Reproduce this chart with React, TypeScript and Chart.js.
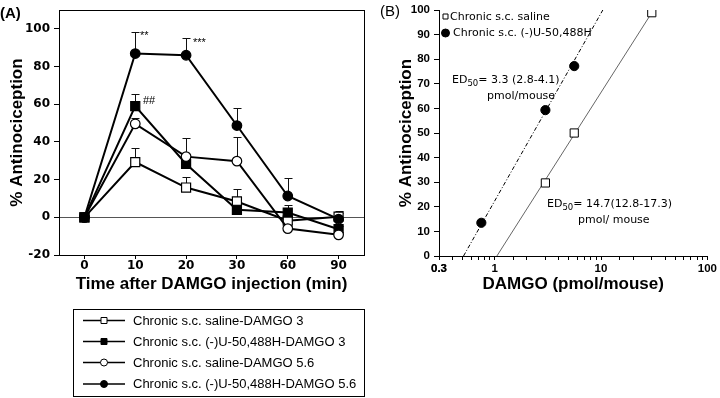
import React, { useEffect, useRef } from 'react';
import { Chart, registerables } from 'chart.js';

Chart.register(...registerables);

// ---------- Panel A data ----------
const timeLabels = ['0', '10', '20', '30', '60', '90'];
const seriesNamesA = [
  'Chronic s.c. saline-DAMGO 3',
  'Chronic s.c. (-)U-50,488H-DAMGO 3',
  'Chronic s.c. saline-DAMGO 5.6',
  'Chronic s.c. (-)U-50,488H-DAMGO 5.6',
];
const salineD3 = [0, 29.3, 15.8, 8.4, -1.8, 0.3];
const salineD3Sem = [0, 7.4, 5.6, 6.6, 2, 1.9];
const u50D3 = [0, 59, 28.3, 4, 2.5, -6.3];
const u50D3Sem = [0, 6.2, 2, 6, 4.2, 1.5];
const salineD56 = [0, 49.6, 32.2, 29.8, -6, -9.3];
const salineD56Sem = [0, 3, 9.7, 12.9, 1.5, 1.5];
const u50D56 = [0, 86.9, 86, 48.7, 11.3, -1];
const u50D56Sem = [0, 11.6, 9.2, 9.3, 9.4, 4.5];
const yTicksA = [-20, 0, 20, 40, 60, 80, 100];

// ---------- Panel B data ----------
const doseSaline = [3, 5.6, 30];
const respSaline = [29.7, 50, 98.9];
const doseU50 = [0.75, 3, 5.6];
const respU50 = [13.5, 59.3, 77.2];
const fitSalineDose = [1.05, 30];
const fitSalineResp = [0, 98.9];
const fitU50Dose = [0.51, 10.4];
const fitU50Resp = [0, 100];
const seriesNamesB = ['Chronic s.c. saline', 'Chronic s.c. (-)U-50,488H'];
const xTickLabelsB = [0.3, 1, 10, 100];

const ARIAL = '"Liberation Sans", Arial, Helvetica, sans-serif';
const DEJAVU = '"DejaVu Sans", sans-serif';

function drawMarker(ctx: CanvasRenderingContext2D, shape: string, filled: boolean, x: number, y: number, size: number) {
  ctx.save();
  ctx.lineWidth = 1;
  ctx.strokeStyle = '#000';
  ctx.fillStyle = filled ? '#000' : '#fff';
  ctx.beginPath();
  if (shape === 'rect') {
    ctx.rect(x - size / 2, y - size / 2, size, size);
  } else {
    ctx.arc(x, y, size / 2, 0, Math.PI * 2);
  }
  ctx.fill();
  ctx.stroke();
  ctx.restore();
}

const panelAPlugin = {
  id: 'panelA',
  beforeDatasetsDraw(chart: any) {
    const { ctx, chartArea: ca, scales } = chart;
    const y = scales.y;
    ctx.save();
    const y0 = Math.round(y.getPixelForValue(0)) + 0.5;
    ctx.strokeStyle = '#555';
    ctx.lineWidth = 1;
    ctx.beginPath();
    ctx.moveTo(ca.left, y0);
    ctx.lineTo(ca.right, y0);
    ctx.stroke();
    ctx.strokeStyle = '#111';
    chart.data.datasets.forEach((ds: any, di: number) => {
      const meta = chart.getDatasetMeta(di);
      meta.data.forEach((pt: any, i: number) => {
        const e = ds.errors[i];
        if (!e) return;
        const x = Math.round(pt.x) + 0.5;
        const yTop = Math.round(y.getPixelForValue(ds.data[i] + e)) + 0.5;
        ctx.beginPath();
        ctx.moveTo(x, pt.y);
        ctx.lineTo(x, yTop);
        ctx.moveTo(x - 4, yTop);
        ctx.lineTo(x + 4, yTop);
        ctx.stroke();
      });
    });
    ctx.restore();
  },
  afterDraw(chart: any) {
    const { ctx, chartArea: ca } = chart;
    ctx.save();
    // frame
    ctx.strokeStyle = '#000';
    ctx.lineWidth = 1;
    ctx.strokeRect(Math.round(ca.left) + 0.5, Math.round(ca.top) + 0.5, Math.round(ca.right - ca.left), Math.round(ca.bottom - ca.top));
    // panel label
    ctx.fillStyle = '#000';
    ctx.textBaseline = 'middle';
    ctx.textAlign = 'left';
    ctx.font = `bold 15px ${ARIAL}`;
    ctx.fillText('(A)', 0, 14);
    // significance marks
    ctx.font = `11px ${ARIAL}`;
    ctx.fillText('**', 140, 36);
    ctx.fillText('***', 193, 43);
    ctx.fillText('##', 143, 101);
    // legend box
    ctx.strokeRect(73.5, 309.5, 291, 87);
    const rows = [320.5, 341.5, 362.5, 384];
    const shapes = ['rect', 'rect', 'circle', 'circle'];
    const fills = [false, true, false, true];
    ctx.font = `13px ${ARIAL}`;
    rows.forEach((ry, i) => {
      ctx.lineWidth = 1.5;
      ctx.beginPath();
      ctx.moveTo(83, ry);
      ctx.lineTo(125, ry);
      ctx.stroke();
      drawMarker(ctx, shapes[i], fills[i], 104, ry, shapes[i] === 'rect' ? 6 : 7);
      ctx.fillStyle = '#000';
      ctx.fillText(seriesNamesA[i], 133, ry + 0.5);
    });
    ctx.restore();
  },
};

function drawED(ctx: CanvasRenderingContext2D, x: number, y: number, rest: string) {
  ctx.font = `11px ${DEJAVU}`;
  ctx.fillText('ED', x, y);
  let w = ctx.measureText('ED').width;
  ctx.font = `8.5px ${DEJAVU}`;
  ctx.fillText('50', x + w, y + 3.5);
  w += ctx.measureText('50').width;
  ctx.font = `11px ${DEJAVU}`;
  ctx.fillText(rest, x + w, y);
}

const panelBPlugin = {
  id: 'panelB',
  afterDraw(chart: any) {
    const { ctx } = chart;
    const off = 372;
    ctx.save();
    ctx.fillStyle = '#000';
    ctx.textBaseline = 'middle';
    ctx.textAlign = 'left';
    ctx.font = `15px ${ARIAL}`;
    ctx.fillText('(B)', 380 - off, 12);
    // legend
    drawMarker(ctx, 'rect', false, 445.5 - off, 16.5, 5);
    drawMarker(ctx, 'circle', true, 445.5 - off, 33, 8);
    ctx.font = `11px ${DEJAVU}`;
    ctx.fillText(seriesNamesB[0], 450 - off, 17);
    ctx.fillText(seriesNamesB[1], 453 - off, 33.5);
    // ED50 annotations
    drawED(ctx, 452 - off, 80, '= 3.3 (2.8-4.1)');
    ctx.font = `11px ${DEJAVU}`;
    ctx.fillText('pmol/mouse', 487 - off, 96);
    drawED(ctx, 547 - off, 204, '= 14.7(12.8-17.3)');
    ctx.font = `11px ${DEJAVU}`;
    ctx.fillText('pmol/ mouse', 578 - off, 220);
    ctx.restore();
  },
};

function PanelA() {
  const ref = useRef<HTMLCanvasElement | null>(null);
  useEffect(() => {
    if (!ref.current) return;
    const tickFont = { family: DEJAVU, size: 12, weight: 'bold' as const, lineHeight: 1 };
    const mk = (i: number, data: number[], errs: number[], shape: string, filled: boolean) => ({
      label: seriesNamesA[i],
      data,
      errors: errs,
      borderColor: '#000',
      borderWidth: 2,
      pointStyle: shape,
      pointRadius: shape === 'rect' ? 6.4 : 4.8,
      pointBackgroundColor: filled ? '#000' : '#fff',
      pointBorderColor: '#000',
      pointBorderWidth: 1.2,
      tension: 0,
    });
    const chart = new Chart(ref.current, {
      type: 'line',
      data: {
        labels: timeLabels,
        datasets: [
          mk(3, u50D56, u50D56Sem, 'circle', true),
          mk(2, salineD56, salineD56Sem, 'circle', false),
          mk(1, u50D3, u50D3Sem, 'rect', true),
          mk(0, salineD3, salineD3Sem, 'rect', false),
        ] as any,
      },
      options: {
        animation: false,
        responsive: false,
        devicePixelRatio: 1,
        layout: { padding: { top: 3, right: 8, left: 0, bottom: 98 } },
        plugins: { legend: { display: false }, tooltip: { enabled: false } },
        scales: {
          x: {
            type: 'category',
            offset: true,
            grid: { drawOnChartArea: false, drawTicks: true, tickLength: 4, color: '#000' },
            border: { display: true, color: '#000', width: 1 },
            ticks: { color: '#000', font: tickFont, padding: 1, maxRotation: 0, autoSkip: false },
            title: {
              display: true,
              text: 'Time after DAMGO injection (min)',
              color: '#000',
              font: { family: ARIAL, size: 17, weight: 'bold' },
              padding: { top: 0, bottom: 5 },
            },
            afterFit: (s: any) => { s.height = 45; },
          },
          y: {
            type: 'linear',
            min: -20,
            max: 110,
            grid: { drawOnChartArea: false, drawTicks: true, tickLength: 5, color: '#000' },
            border: { display: true, color: '#000', width: 1 },
            ticks: {
              color: '#000',
              font: tickFont,
              padding: 4,
              includeBounds: false,
              stepSize: 20,
              callback: (v: any) => (yTicksA.includes(Number(v)) ? String(v) : ''),
            },
            title: {
              display: true,
              text: '% Antinociception',
              color: '#000',
              font: { family: ARIAL, size: 17, weight: 'bold' },
              padding: { top: 7, bottom: 0 },
            },
            afterFit: (s: any) => { s.width = 59; },
          },
        },
      } as any,
      plugins: [panelAPlugin],
    });
    return () => chart.destroy();
  }, []);
  return <canvas ref={ref} width={372} height={398} style={{ position: 'absolute', left: 0, top: 0, width: 372, height: 398 }} />;
}

function PanelB() {
  const ref = useRef<HTMLCanvasElement | null>(null);
  useEffect(() => {
    if (!ref.current) return;
    const tickFont = { family: ARIAL, size: 11.5, weight: 'bold' as const, lineHeight: 1 };
    const chart = new Chart(ref.current, {
      type: 'line',
      data: {
        datasets: [
          {
            label: seriesNamesB[1],
            data: doseU50.map((d, i) => ({ x: d, y: respU50[i] })),
            showLine: false,
            pointStyle: 'circle',
            pointRadius: 4.6,
            pointBackgroundColor: '#000',
            pointBorderColor: '#000',
            order: 0,
          },
          {
            label: seriesNamesB[0],
            data: doseSaline.map((d, i) => ({ x: d, y: respSaline[i] })),
            showLine: false,
            pointStyle: 'rect',
            pointRadius: 5.8,
            pointBackgroundColor: '#fff',
            pointBorderColor: '#000',
            pointBorderWidth: 1,
            order: 0,
          },
          {
            label: 'fit U50',
            data: fitU50Dose.map((d, i) => ({ x: d, y: fitU50Resp[i] })),
            borderColor: '#000',
            borderWidth: 1,
            borderDash: [4, 2, 1, 2],
            pointRadius: 0,
            order: 1,
          },
          {
            label: 'fit saline',
            data: fitSalineDose.map((d, i) => ({ x: d, y: fitSalineResp[i] })),
            borderColor: '#666',
            borderWidth: 1,
            pointRadius: 0,
            order: 1,
          },
        ] as any,
      },
      options: {
        animation: false,
        responsive: false,
        devicePixelRatio: 1,
        layout: { padding: { top: 10, right: 11, left: 0, bottom: 98 } },
        plugins: { legend: { display: false }, tooltip: { enabled: false } },
        scales: {
          x: {
            type: 'logarithmic',
            min: 0.3,
            max: 100,
            grid: { drawOnChartArea: false, drawTicks: true, tickLength: 4, color: '#000' },
            border: { display: true, color: '#000', width: 1 },
            ticks: {
              color: '#000',
              font: tickFont,
              padding: 3,
              maxRotation: 0,
              autoSkip: false,
              callback: (v: any) => {
                const n = Number(v);
                const hit = xTickLabelsB.find((t) => Math.abs(t - n) < 1e-6);
                return hit !== undefined ? String(hit) : '';
              },
            },
            title: {
              display: true,
              text: 'DAMGO (pmol/mouse)',
              color: '#000',
              font: { family: ARIAL, size: 17, weight: 'bold' },
              padding: { top: 0, bottom: 5 },
            },
            afterFit: (s: any) => { s.height = 44; },
          },
          y: {
            type: 'linear',
            min: 0,
            max: 100,
            grid: { drawOnChartArea: false, drawTicks: true, tickLength: 5, color: '#000' },
            border: { display: true, color: '#000', width: 1 },
            ticks: { color: '#000', font: tickFont, padding: 4, stepSize: 10 },
            title: {
              display: true,
              text: '% Antinociception',
              color: '#000',
              font: { family: ARIAL, size: 17, weight: 'bold' },
              padding: { top: 24, bottom: 0 },
            },
            afterFit: (s: any) => { s.width = 67; },
          },
        },
      } as any,
      plugins: [panelBPlugin],
    });
    return () => chart.destroy();
  }, []);
  return <canvas ref={ref} width={348} height={398} style={{ position: 'absolute', left: 372, top: 0, width: 348, height: 398 }} />;
}

export default function App() {
  return (
    <div style={{ position: 'absolute', left: 0, top: 0, width: 720, height: 398, background: '#fff', overflow: 'hidden' }}>
      <PanelA />
      <PanelB />
    </div>
  );
}
